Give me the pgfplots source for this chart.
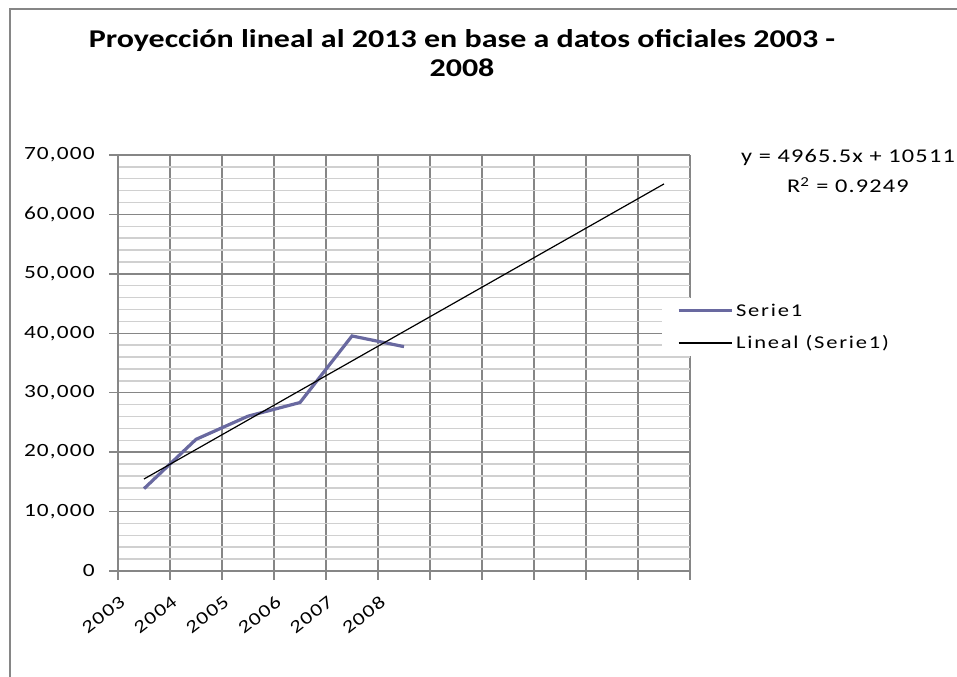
\documentclass[border=0pt]{standalone}
\usepackage{fontspec}
\setmainfont{Carlito}[FakeStretch=1.25]
\newfontfamily\xl{Carlito}[FakeStretch=1.25,LetterSpace=6]
\newfontfamily\xll{Carlito}[FakeStretch=1.25,LetterSpace=10]
\usepackage{pgfplots}
\pgfplotsset{compat=1.18}
\definecolor{gridmaj}{RGB}{134,134,134}
\definecolor{gridmin}{RGB}{208,208,208}
\definecolor{serie}{RGB}{105,105,160}
\begin{document}
\begin{tikzpicture}
\path[use as bounding box] (0,0) rectangle (717.75pt,507.75pt);
\fill[white] (0,0) rectangle (717.75pt,507.75pt);
% chart frame (top and left visible)
\draw[gridmaj,line width=1.5pt] (7.5pt,0pt) -- (7.5pt,501pt) -- (717.75pt,501pt);
% title
\node[anchor=base,font=\fontsize{19.2}{22}\selectfont\bfseries] at (346.5pt,471.75pt) {Proyección lineal al 2013 en base a datos oficiales 2003 -};
\node[anchor=base,font=\fontsize{19.2}{22}\selectfont\bfseries] at (346.5pt,450pt) {2008};
% trendline equation
\node[anchor=base,font=\xl\fontsize{14.6}{17}\selectfont] at (636pt,385.5pt) {y = 4965.5x + 10511};
\node[anchor=base,font=\xl\fontsize{14.6}{17}\selectfont] at (636pt,363pt) {R\textsuperscript{2} = 0.9249};
\begin{axis}[
  at={(88.5pt,79.5pt)}, anchor=south west,
  scale only axis, width=429pt, height=312pt,
  xmin=0.5, xmax=11.5, ymin=0, ymax=70000,
  scaled y ticks=false,
  xtick={0.5,1.5,...,11.5},
  xticklabels={2003,2004,2005,2006,2007,2008,,,,,,},
  ytick={0,10000,...,70000},
  yticklabels={0,{10,000},{20,000},{30,000},{40,000},{50,000},{60,000},{70,000}},
  minor ytick={2000,4000,...,68000},
  tick align=outside,
  major tick length=6.5pt,
  minor tick length=0pt,
  xmajorgrids, ymajorgrids, yminorgrids,
  major grid style={gridmaj,line width=1.1pt},
  minor grid style={gridmin,line width=1.1pt},
  axis line style={gridmaj,line width=1.1pt},
  tick style={gridmaj,line width=1.1pt},
  axis x line*=bottom, axis y line*=left,
  ticklabel style={font=\xl\fontsize{14}{16}\selectfont},
  xticklabel style={rotate=38,anchor=north east,xshift=-3pt,yshift=-6pt,font=\xl\fontsize{13.5}{16}\selectfont},
  yticklabel style={xshift=-7.5pt},
  legend style={at={(0.951,0.656)},anchor=north west,fill=white,draw=none,
    font=\xll\fontsize{13.5}{16}\selectfont,row sep=9pt,inner sep=2pt},
  legend cell align=left,
  legend image code/.code={\path (0pt,0pt); \draw[#1] (9pt,0pt) -- (49pt,0pt);},
]
\addplot[serie,line width=2.4pt] coordinates {(1,13850) (2,22150) (3,26050) (4,28350) (5,39550) (6,37750)};
\addlegendentry{Serie1}
\addplot[black,line width=0.9pt] coordinates {(1,15476.5) (11,65131.5)};
\addlegendentry{Lineal (Serie1)}
\end{axis}
\end{tikzpicture}
\end{document}
